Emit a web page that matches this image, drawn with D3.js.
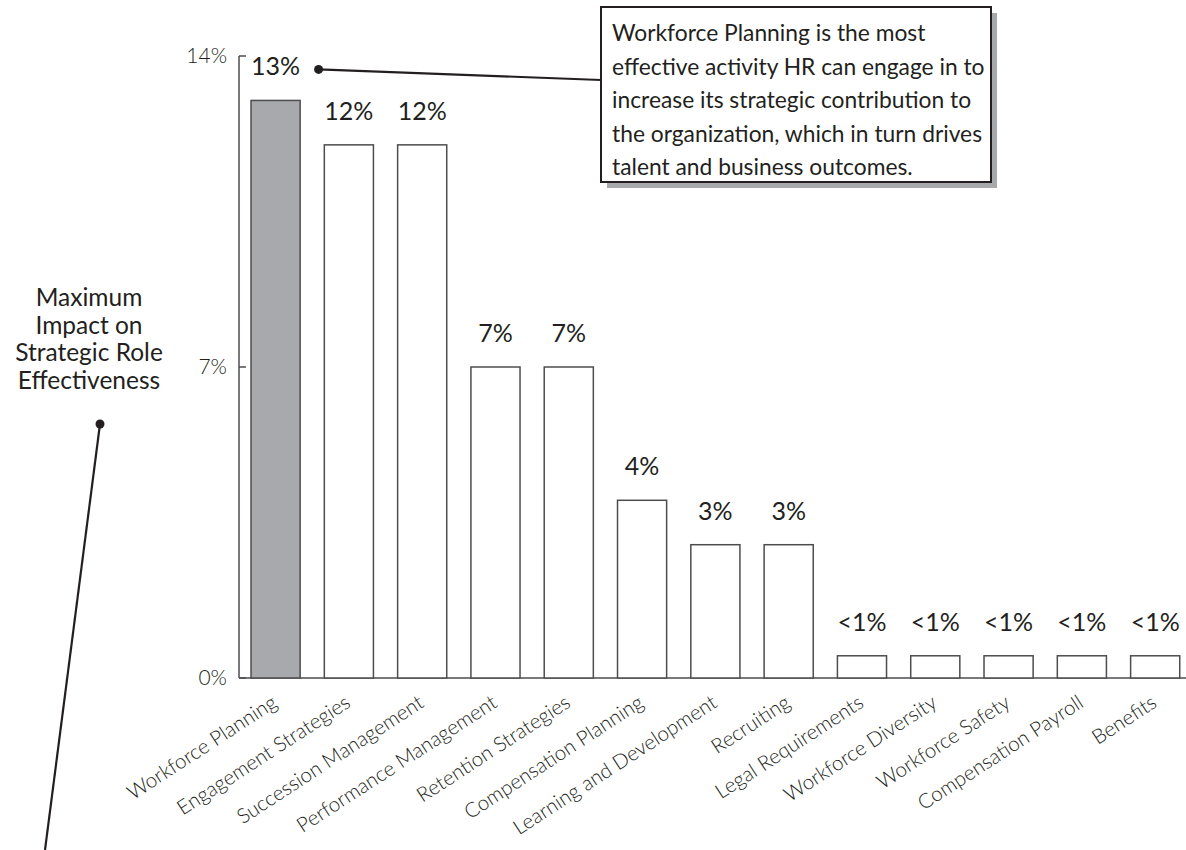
<!DOCTYPE html>
<html>
<head>
<meta charset="utf-8">
<script src="https://cdn.jsdelivr.net/npm/d3@7"></script>
<style>
  html, body { margin: 0; padding: 0; background: #fff; }
  svg { display: block; font-family: Lato, "Open Sans", sans-serif; }
</style>
</head>
<body>
<div id="chart"></div>
<script>
const categories = ["Workforce Planning", "Engagement Strategies", "Succession Management",
  "Performance Management", "Retention Strategies", "Compensation Planning",
  "Learning and Development", "Recruiting", "Legal Requirements", "Workforce Diversity",
  "Workforce Safety", "Compensation Payroll", "Benefits"];
const values = [13, 12, 12, 7, 7, 4, 3, 3, 0.5, 0.5, 0.5, 0.5, 0.5];
const valueLabels = ["13%", "12%", "12%", "7%", "7%", "4%", "3%", "3%", "<1%", "<1%", "<1%", "<1%", "<1%"];
const yTicks = [0, 7, 14];
const yTickLabels = ["0%", "7%", "14%"];
const axisTitle = ["Maximum", "Impact on", "Strategic Role", "Effectiveness"];
const calloutLines = ["Workforce Planning is the most", "effective activity HR can engage in to",
  "increase its strategic contribution to", "the organization, which in turn drives",
  "talent and business outcomes."];

const W = 1186, H = 850;
const svg = d3.select("#chart").append("svg").attr("width", W).attr("height", H);
const ink = "#231f20", lineCol = "#4d4d4f";

const y = d3.scaleLinear().domain([0, 14]).range([678, 56]);
const pIn = 0.33, pOut = 0.164, step = 73.3;
const x = d3.scaleBand().domain(categories)
  .range([239, 239 + step * (categories.length - pIn + 2 * pOut)])
  .paddingInner(pIn).paddingOuter(pOut);

// axes lines
svg.append("line").attr("x1", 239).attr("x2", W).attr("y1", y(0)).attr("y2", y(0))
  .attr("stroke", lineCol).attr("stroke-width", 1.5);
svg.append("line").attr("x1", 239).attr("x2", 239).attr("y1", y(14)).attr("y2", y(0))
  .attr("stroke", lineCol).attr("stroke-width", 1.5);
svg.selectAll(".ytick").data(yTicks).enter().append("line")
  .attr("x1", 239).attr("x2", 246).attr("y1", d => y(d)).attr("y2", d => y(d))
  .attr("stroke", lineCol).attr("stroke-width", 1.5);
svg.selectAll(".ylab").data(yTicks).enter().append("text")
  .attr("x", 227).attr("y", d => y(d) + 7).attr("text-anchor", "end")
  .attr("font-size", 21).attr("font-weight", 300).attr("fill", ink)
  .text((d, i) => yTickLabels[i]);

// bars
svg.selectAll(".bar").data(values).enter().append("rect")
  .attr("x", (d, i) => x(categories[i])).attr("width", x.bandwidth())
  .attr("y", d => y(d)).attr("height", d => y(0) - y(d))
  .attr("fill", (d, i) => i === 0 ? "#a7a9ac" : "#fff")
  .attr("stroke", lineCol).attr("stroke-width", 1.5);

// value labels
svg.selectAll(".vl").data(values).enter().append("text")
  .attr("x", (d, i) => x(categories[i]) + x.bandwidth() / 2)
  .attr("y", d => y(d) - 25).attr("text-anchor", "middle")
  .attr("font-size", 25).attr("fill", ink)
  .text((d, i) => valueLabels[i]);

// category labels
svg.selectAll(".cl").data(categories).enter().append("text")
  .attr("transform", d => `translate(${x(d) + x.bandwidth() / 2 + 3},${y(0) + 28}) rotate(-33)`)
  .attr("text-anchor", "end").attr("font-size", 20.5).attr("font-weight", 300).attr("fill", ink)
  .text(d => d);

// axis title
svg.append("text").attr("x", 89).attr("y", 306).attr("text-anchor", "middle")
  .attr("font-size", 24.5).attr("fill", ink)
  .selectAll("tspan").data(axisTitle).enter().append("tspan")
  .attr("x", 89).attr("dy", (d, i) => i === 0 ? 0 : 27.5).text(d => d);
svg.append("line").attr("x1", 100).attr("y1", 424).attr("x2", 45).attr("y2", 850)
  .attr("stroke", ink).attr("stroke-width", 2.2);
svg.append("circle").attr("cx", 100).attr("cy", 424).attr("r", 4.5).attr("fill", ink);

// callout
const bx = 601, by = 7, bw = 390, bh = 175;
svg.append("rect").attr("x", bx + 6).attr("y", by + 6).attr("width", bw).attr("height", bh)
  .attr("fill", "#a7a9ac");
svg.append("rect").attr("x", bx).attr("y", by).attr("width", bw).attr("height", bh)
  .attr("fill", "#fff").attr("stroke", ink).attr("stroke-width", 2);
svg.append("text").attr("x", 612).attr("y", 41).attr("font-size", 22.8).attr("fill", ink)
  .selectAll("tspan").data(calloutLines).enter().append("tspan")
  .attr("x", 612).attr("dy", (d, i) => i === 0 ? 0 : 33.5).text(d => d);
const dotX = x(categories[0]) + x.bandwidth() / 2 + 43, dotY = y(values[0]) - 31;
svg.append("line").attr("x1", dotX).attr("y1", dotY).attr("x2", bx).attr("y2", 80)
  .attr("stroke", ink).attr("stroke-width", 2.2);
svg.append("circle").attr("cx", dotX).attr("cy", dotY).attr("r", 4.5).attr("fill", ink);
</script>
</body>
</html>
